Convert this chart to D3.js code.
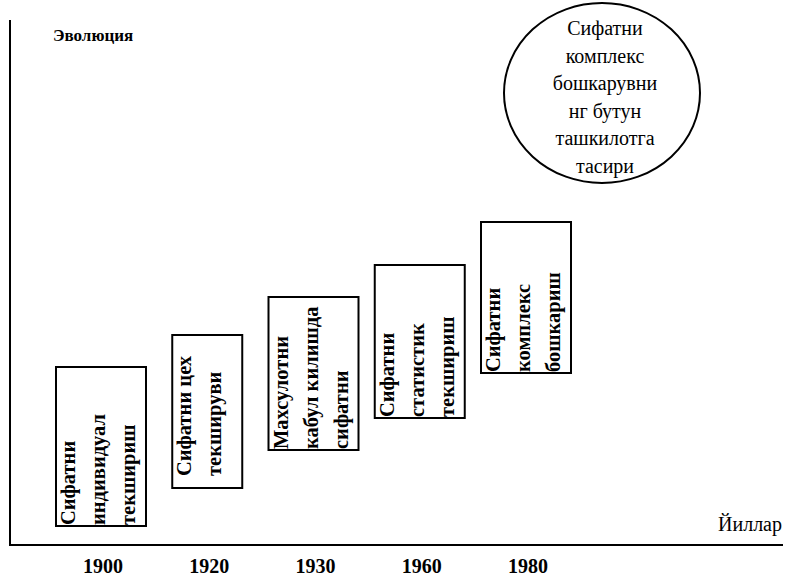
<!DOCTYPE html>
<html><head><meta charset="utf-8">
<script src="https://cdn.jsdelivr.net/npm/d3@7"></script>
<style>body{margin:0;background:#fff}svg{display:block}</style>
</head><body>
<svg id="c" width="788" height="581"></svg>
<script>
const years = ["1900", "1920", "1930", "1960", "1980"];
const stageLines = [
  ["Сифатни", "индивидуал", "текшириш"],
  ["Сифатни цех", "текшируви"],
  ["Махсулотни", "кабул килишда", "сифатни"],
  ["Сифатни", "статистик", "текшириш"],
  ["Сифатни", "комплекс", "бошкариш"]
];
const stageLow = [19, 57, 95, 127, 172];
const stageHigh = [178, 210, 248, 280, 323];
const goalLines = ["Сифатни", "комплекс", "бошкарувни", "нг бутун", "ташкилотга", "тасири"];
const yAxisTitle = "Эволюция";
const xAxisTitle = "Йиллар";

const svg = d3.select("#c");
const x0 = 10, yBase = 545;
const x = d3.scalePoint().domain(years).range([101, 526]);
const y = d3.scaleLinear().domain([0, 545]).range([yBase, 0]);
const serif = "'Liberation Serif', 'DejaVu Serif', serif";

// axes
svg.append("line").attr("x1", x0).attr("x2", x0).attr("y1", 20).attr("y2", yBase + 1)
  .attr("stroke", "#000").attr("stroke-width", 2);
svg.append("line").attr("x1", x0).attr("x2", 783).attr("y1", yBase).attr("y2", yBase)
  .attr("stroke", "#000").attr("stroke-width", 2);

// year labels
svg.selectAll("text.year").data(years).enter().append("text")
  .attr("class", "year")
  .attr("x", d => x(d) + 2).attr("y", 573)
  .attr("text-anchor", "middle")
  .attr("font-family", serif).attr("font-size", 20).attr("font-weight", "bold")
  .text(d => d);

svg.append("text").attr("x", 53).attr("y", 41)
  .attr("font-family", serif).attr("font-size", 17).attr("font-weight", "bold")
  .text(yAxisTitle);
svg.append("text").attr("x", 718).attr("y", 531)
  .attr("font-family", serif).attr("font-size", 20)
  .text(xAxisTitle);

// stage boxes
const lineGap = 30;
const stages = years.map((yr, i) => ({yr, lines: stageLines[i], lo: stageLow[i], hi: stageHigh[i]}));
const g = svg.selectAll("g.stage").data(stages).enter().append("g").attr("class", "stage");
g.each(function(d) {
  const n = d.lines.length;
  const w = n === 3 ? 90 : 70;
  const cx = x(d.yr);
  const left = cx - w / 2;
  const sel = d3.select(this);
  sel.append("rect")
    .attr("x", left).attr("y", y(d.hi))
    .attr("width", w).attr("height", y(d.lo) - y(d.hi))
    .attr("fill", "none").attr("stroke", "#000").attr("stroke-width", 2);
  const offs = n === 3 ? 1 : 12;
  d.lines.forEach((t, j) => {
    const tx = left + 19 + j * lineGap;
    const ty = y(d.lo) - offs;
    sel.append("text")
      .attr("transform", `translate(${tx},${ty}) rotate(-90)`)
      .attr("font-family", serif).attr("font-size", 20.5).attr("font-weight", "bold")
      .text(t);
  });
});

// ellipse
const ecx = 602, ecy = 93;
svg.append("ellipse").attr("cx", ecx).attr("cy", ecy).attr("rx", 98).attr("ry", 90)
  .attr("fill", "none").attr("stroke", "#000").attr("stroke-width", 2);
svg.selectAll("text.goal").data(goalLines).enter().append("text")
  .attr("class", "goal")
  .attr("x", ecx + 3).attr("y", (d, i) => 35 + i * 27.6)
  .attr("text-anchor", "middle")
  .attr("font-family", serif).attr("font-size", 20)
  .text(d => d);
</script>
</body></html>
